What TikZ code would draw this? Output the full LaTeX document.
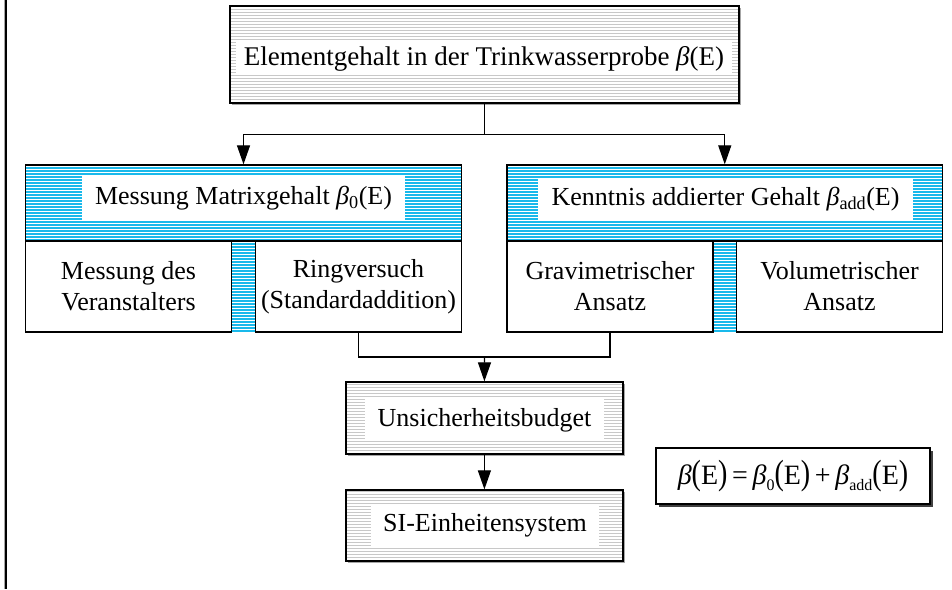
\documentclass[tikz,border=0pt]{standalone}
\usepackage{fontspec}
\setmainfont{Liberation Serif}
\usepackage{graphicx}
\usetikzlibrary{arrows.meta,shadows}
\definecolor{hblue}{RGB}{25,185,235}
\definecolor{hgray}{RGB}{200,200,200}
\tikzset{
  hatchg/.style={path picture={\foreach \k in {0,...,45}{\draw[hgray,line width=0.9pt] ([yshift=\k*3pt+1pt]path picture bounding box.south west) -- ([yshift=\k*3pt+1pt]path picture bounding box.south east);}}},
  hatchb/.style={path picture={\foreach \k in {0,...,60}{\draw[hblue,line width=1.4pt] ([yshift=\k*3pt+1pt]path picture bounding box.south west) -- ([yshift=\k*3pt+1pt]path picture bounding box.south east);}}},
  gbox/.style={draw, line width=1.3pt, fill=white, hatchg, inner sep=0pt,
    general shadow={shadow xshift=1.8pt, shadow yshift=-1.8pt, fill=gray!70}},
  bbox/.style={draw, line width=1.3pt, fill=white, hatchb, inner sep=0pt},
  wbox/.style={draw, line width=1.3pt, fill=white, inner sep=0pt, align=center},
  wlabel/.style={fill=white, inner sep=0pt, align=center},
  fbox/.style={draw, line width=1.3pt, fill=white, inner sep=0pt,
    general shadow={shadow xshift=3pt, shadow yshift=-3pt, fill=black!75}},
  conn/.style={line width=1.2pt},
  arr/.style={-{Triangle[length=19pt,width=13pt]}}
}
\newcommand{\bet}{\textit{β}}
\newcommand{\bigp}[1]{\scalebox{1}[1.25]{#1}}
\begin{document}
\begin{tikzpicture}[x=1pt,y=-1pt,font=\fontsize{26}{31}\selectfont]
\useasboundingbox (0,0) rectangle (952,589);
% left border line
\draw[gray!70,line width=1pt] (4.2,0) -- (4.2,589);
\draw[line width=2pt] (6.3,0) -- (6.3,589);

% top box
\node[gbox, minimum width=509pt, minimum height=97pt] (top) at (484.5,54.5) {};
\node[wlabel, minimum width=496pt, minimum height=33pt, font=\fontsize{27}{31}\selectfont] (toplab) at (484,58.5)
  {Elementgehalt in der Trinkwasserprobe \bet(E)};

% left group
\path[hatchb] (25.5,165) rectangle (461.5,332);
\node[bbox, minimum width=436pt, minimum height=76pt] (lgt) at (243.5,203) {};
\node[wlabel, minimum width=323pt, minimum height=45pt] (lglab) at (243.5,198.5)
  {Messung Matrixgehalt \bet\textsubscript{0}(E)};
\node[wbox, minimum width=206pt, minimum height=91pt] (lga) at (128.5,286.5)
  {Messung des\\Veranstalters};
\node[wbox, minimum width=206pt, minimum height=91pt] (lgb) at (358.5,286.5)
  {Ringversuch\\(Standardaddition)};

% right group
\path[hatchb] (507,165) rectangle (942.5,332);
\node[bbox, minimum width=435.5pt, minimum height=76pt] (rgt) at (724.75,203) {};
\node[wlabel, minimum width=375pt, minimum height=43pt] (rglab) at (725.5,199.5)
  {Kenntnis addierter Gehalt \bet\textsubscript{add}(E)};
\node[wbox, minimum width=206pt, minimum height=91pt] (rga) at (610,286.5)
  {Gravimetrischer\\Ansatz};
\node[wbox, minimum width=206pt, minimum height=91pt] (rgb) at (839.5,286.5)
  {Volumetrischer\\Ansatz};

% lower boxes
\node[gbox, minimum width=277pt, minimum height=72pt] (ub) at (484.4,418) {};
\node[wlabel, minimum width=239pt, minimum height=42pt] (ublab) at (484.5,420)
  {Unsicherheitsbudget};
\node[gbox, minimum width=277pt, minimum height=71pt] (si) at (484.4,525.5) {};
\node[wlabel, minimum width=228pt, minimum height=42pt] (silab) at (485,525)
  {SI-Einheitensystem};

% formula
\node[fbox, minimum width=274pt, minimum height=56pt, font=\fontsize{28}{31}\selectfont] (form) at (793,476)
  {\bet\bigp{(}E\bigp{)}\,=\,\bet\raisebox{-0.45ex}{\fontsize{16}{16}\selectfont 0}\bigp{(}E\bigp{)}\,+\,\bet\raisebox{-0.45ex}{\fontsize{16}{16}\selectfont add}\bigp{(}E\bigp{)}};

% connectors
\draw[conn] (top.south) -- ++(0,31) coordinate (split);
\draw[conn,arr] (split) -| (lgt.north);
\draw[conn,arr] (split) -| (rgt.north);
\coordinate (join) at (484.5,357);
\draw[conn] (lgb.south) |- (join) -| (rga.south);
\draw[conn,arr] (join) -- (ub.north);
\draw[conn,arr] (ub.south) -- (si.north);
\end{tikzpicture}
\end{document}
